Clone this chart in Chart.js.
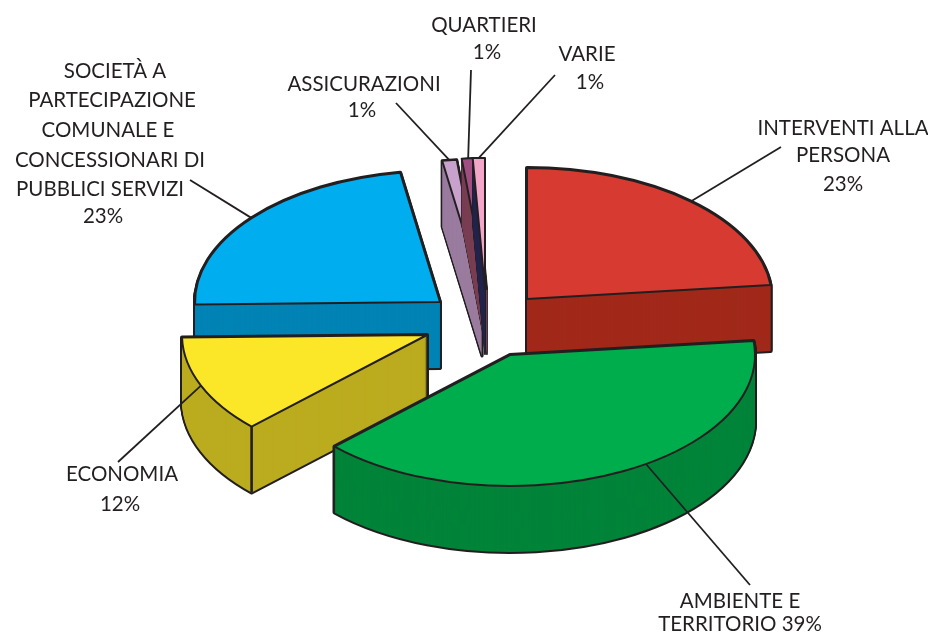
<!DOCTYPE html>
<html>
<head>
<meta charset="utf-8">
<style>html,body{margin:0;padding:0;background:#fff}#wrap{width:928px;height:635px}</style>
<script src="https://cdn.jsdelivr.net/npm/chart.js@4"></script>
</head>
<body>
<div id="wrap"><canvas id="c" width="928" height="635"></canvas></div>
<script>
const categories = ['INTERVENTI ALLA PERSONA','AMBIENTE E TERRITORIO','ECONOMIA','SOCIETÀ A PARTECIPAZIONE COMUNALE E CONCESSIONARI DI PUBBLICI SERVIZI','ASSICURAZIONI','QUARTIERI','VARIE'];
const values = [23.3,39.4,12,22.7,0.95,0.85,0.8];
const topColors = ['#D63A30','#00AD4D','#FBE627','#00AEEF','#C8A2CC','#A04D82','#F4A6C8'];
const sideColors = ['#A1291A','#008439','#BBAC1F','#0083B5','#9A7C9F','#7A3F52','#20264F'];

const INK = '#231F20';
const SQUASH = 0.535, DEPTH = 66, RADIUS = 245;
const explodeX = [42,25,-58,-45,-3,2,0];
const explodeY = [-24,32,12,-21,-33,-34,-34];
const sideStroke = [4,4,4,4,3,1,1];
const paintOrder = [3,0,4,5,6,2,1];
const frontEdgeSlices = [2];
const leaderFraction = [0.5,0.44,0.5,0.5,0.5,0.5,0.5];
const leaderEnds = [[781,147],[750,585],[118,462],[190,180],[396,103],[471,70],[555,75]];
const textBlocks = [
  [['INTERVENTI ALLA',843,128],['PERSONA',843,155],['23%',843,184]],
  [['AMBIENTE E',740,601],['TERRITORIO 39%',740,624]],
  [['ECONOMIA',122,474],['12%',120,504]],
  [['SOCIETÀ A',115,71],['PARTECIPAZIONE',112,100],['COMUNALE E',108,130],['CONCESSIONARI DI',110,160],['PUBBLICI SERVIZI',100,189],['23%',103,216]],
  [['ASSICURAZIONI',364,84],['1%',362,110]],
  [['QUARTIERI',484,25],['1%',487,52]],
  [['VARIE',587,54],['1%',590,82]]
];

function slicePath(ctx, arc, i, dy){
  ctx.beginPath();
  ctx.save();
  ctx.translate(arc.x + explodeX[i], arc.y + explodeY[i] + dy);
  ctx.scale(1, SQUASH);
  ctx.moveTo(0,0);
  ctx.arc(0,0,arc.outerRadius,arc.startAngle,arc.endAngle);
  ctx.closePath();
  ctx.restore();
}
function rimPoint(arc, i, angle){
  return [arc.x + explodeX[i] + Math.cos(angle)*arc.outerRadius,
          arc.y + explodeY[i] + Math.sin(angle)*arc.outerRadius*SQUASH];
}
function line(ctx,x0,y0,x1,y1){
  ctx.beginPath();ctx.moveTo(x0,y0);ctx.lineTo(x1,y1);ctx.stroke();
}
const pie3d = {
  id:'pie3d',
  beforeDatasetDraw(chart,args){
    const ctx = chart.ctx, arcs = args.meta.data;
    ctx.save();
    ctx.lineJoin='round';
    paintOrder.forEach(i=>{
      const arc = arcs[i];
      ctx.strokeStyle = INK;
      ctx.lineWidth = sideStroke[i];
      for(let d=DEPTH;d>=0;d--){ slicePath(ctx,arc,i,d); ctx.stroke(); }
      ctx.fillStyle = sideColors[i];
      for(let d=DEPTH;d>=0;d--){ slicePath(ctx,arc,i,d); ctx.fill(); }
      if(frontEdgeSlices.includes(i)){
        ctx.lineWidth = 2.6;
        const p = rimPoint(arc,i,arc.startAngle);
        line(ctx,p[0],p[1],p[0],p[1]+DEPTH);
      }
      ctx.save();
      ctx.translate(arc.x+explodeX[i],arc.y+explodeY[i]);
      ctx.scale(1,SQUASH);
      ctx.translate(-arc.x,-arc.y);
      arc.draw(ctx);
      ctx.restore();
      ctx.lineWidth = 2;
      slicePath(ctx,arc,i,0); ctx.stroke();
    });
    ctx.restore();
    return false;
  },
  afterDraw(chart){
    const ctx = chart.ctx, arcs = chart.getDatasetMeta(0).data;
    ctx.save();
    ctx.strokeStyle = INK; ctx.lineWidth = 1.8;
    arcs.forEach((arc,i)=>{
      const a = arc.startAngle + (arc.endAngle-arc.startAngle)*leaderFraction[i];
      const p = rimPoint(arc,i,a);
      line(ctx,p[0],p[1],leaderEnds[i][0],leaderEnds[i][1]);
    });
    ctx.fillStyle = INK;
    ctx.font = '20.5px "Lato", sans-serif';
    ctx.textAlign='center'; ctx.textBaseline='middle';
    textBlocks.forEach(b=>b.forEach(t=>ctx.fillText(t[0],t[1],t[2])));
    ctx.restore();
  }
};
new Chart(document.getElementById('c'),{
  type:'pie',
  data:{labels:categories,datasets:[{data:values,backgroundColor:topColors,borderWidth:0}]},
  options:{
    responsive:false,animation:false,
    radius:RADIUS,
    layout:{padding:{left:42,top:11}},
    plugins:{legend:{display:false},tooltip:{enabled:false},title:{display:false}}
  },
  plugins:[pie3d]
});
</script>
</body>
</html>
